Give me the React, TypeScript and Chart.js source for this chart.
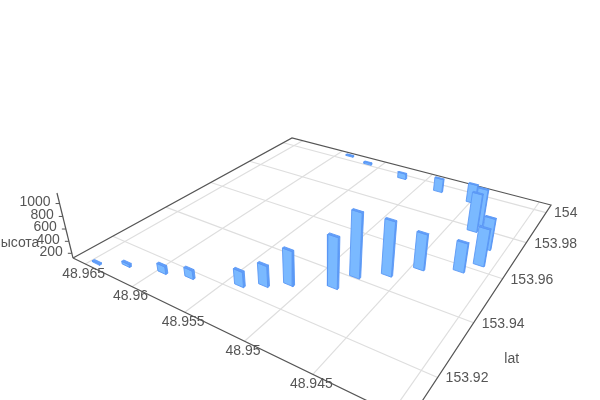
import React, { useEffect, useRef } from "react";
import { Chart, registerables } from "chart.js";

Chart.register(...registerables);

// ---- data ----
const lonValues = [48.96438, 48.96234, 48.95951, 48.95746, 48.95391, 48.95253, 48.95115, 48.94842, 48.94777, 48.946, 48.94442, 48.94193, 48.941, 48.94135, 48.94313, 48.94311, 48.94495, 48.94817, 48.95206, 48.95626, 48.95872];
const latValues = [153.909, 153.9126, 153.9155, 153.9177, 153.922, 153.9253, 153.929, 153.9339, 153.9406, 153.9457, 153.9526, 153.9573, 153.9627, 153.9711, 153.978, 153.9824, 153.994, 153.9953, 153.9974, 154.0009, 154.0033];
const heightValues = [140, 165, 245, 260, 365, 455, 670, 920, 1140, 985, 700, 590, 720, 640, 765, 740, 455, 365, 225, 155, 140];

const lonTicks = [48.965, 48.96, 48.955, 48.95, 48.945, 48.94];
const lonTickLabels = ["48.965", "48.96", "48.955", "48.95", "48.945", ""];
const latTicks = [153.92, 153.94, 153.96, 153.98, 154];
const latTickLabels = ["153.92", "153.94", "153.96", "153.98", "154"];
const heightTicks = [200, 400, 600, 800, 1000];

const latName = "lat";
const heightName = "высота";

// ---- axis extents ----
const lonStart = 48.9664;
const lonSpan = 0.0274;
const latStart = 153.907;
const latSpan = 0.0986;
const heightMin = 120;
const heightMax = 1160;

// ---- camera (homography of ground plane plus vertical vanishing point) ----
const cam = { a: 212.9, b: 354, c: 73, d: 36.3, e: -56.2, f: 258, g: -0.301, h: 0.4623, k: -0.0616, vx: 317, vy: 1248 };
const barDU = 0.029;
const barDV = 0.007;

const uOf = (lon: number) => (lonStart - lon) / lonSpan;
const vOf = (lat: number) => (lat - latStart) / latSpan;
const zOf = (h: number) => (h - heightMin) / (heightMax - heightMin);

function project(u: number, v: number, z = 0) {
  const w = cam.g * u + cam.h * v + 1;
  const gx = cam.a * u + cam.b * v + cam.c;
  const gy = cam.d * u + cam.e * v + cam.f;
  const kz = cam.k * z;
  return { x: (gx + kz * cam.vx) / (w + kz), y: (gy + kz * cam.vy) / (w + kz) };
}

const AXIS = "#555555";
const GRID = "#dedede";
const FACE = "#7ab9ff";
const SIDE = "#5f9ff8";
const TOP = "#639ffa";
const EDGE = "#5a97f5";

function lineSet(points: { x: number; y: number }[], color: string, width = 1) {
  return { data: points, showLine: true, borderColor: color, borderWidth: width, pointRadius: 0, fill: false, tension: 0 };
}
function polySet(points: { x: number; y: number }[], color: string) {
  return {
    data: [...points, points[0]],
    showLine: true,
    borderColor: EDGE,
    borderWidth: 0.9,
    backgroundColor: color,
    pointRadius: 0,
    fill: "shape",
    tension: 0,
  };
}

function buildDatasets() {
  const drawn: any[] = [];
  // grid
  for (const lon of lonTicks) drawn.push(lineSet([project(uOf(lon), 0), project(uOf(lon), 1)], GRID, 1.2));
  for (const lat of latTicks) drawn.push(lineSet([project(0, vOf(lat)), project(1, vOf(lat))], GRID, 1.2));
  // axes
  drawn.push(lineSet([project(0, 0), project(1, 0), project(1, 1), project(0, 1), project(0, 0)], AXIS, 1.2));
  drawn.push(lineSet([project(0, 0), project(0, 0, 1)], AXIS, 1.2));
  for (const t of heightTicks) {
    const p = project(0, 0, zOf(t));
    drawn.push(lineSet([p, { x: p.x - 4, y: p.y }], AXIS));
  }
  // bars, far ones first
  const order = lonValues
    .map((_, i) => i)
    .sort((p, q) => {
      const wp = cam.g * uOf(lonValues[p]) + cam.h * vOf(latValues[p]);
      const wq = cam.g * uOf(lonValues[q]) + cam.h * vOf(latValues[q]);
      return wq - wp;
    });
  for (const i of order) {
    const u = uOf(lonValues[i]);
    const v = vOf(latValues[i]);
    const z = zOf(heightValues[i]);
    const u0 = u - barDU / 2, u1 = u + barDU / 2, v0 = v - barDV / 2, v1 = v + barDV / 2;
    drawn.push(polySet([project(u1, v0, 0), project(u1, v1, 0), project(u1, v1, z), project(u1, v0, z)], SIDE));
    drawn.push(polySet([project(u0, v0, 0), project(u1, v0, 0), project(u1, v0, z), project(u0, v0, z)], FACE));
    drawn.push(polySet([project(u0, v0, z), project(u1, v0, z), project(u1, v1, z), project(u0, v1, z)], TOP));
  }
  return drawn.reverse();
}

const textPlugin = {
  id: "axisText",
  afterDraw(chart: any) {
    const { ctx, scales } = chart;
    const X = (p: number) => scales.x.getPixelForValue(p);
    const Y = (p: number) => scales.y.getPixelForValue(p);
    ctx.save();
    ctx.fillStyle = "#555555";
    ctx.font = '14px "Liberation Sans", Arial, sans-serif';
    ctx.textBaseline = "middle";
    ctx.textAlign = "center";
    lonTicks.forEach((lon, i) => {
      const p = project(uOf(lon), 0);
      ctx.fillText(lonTickLabels[i], X(p.x) - 1.5, Y(p.y) + 10);
    });
    ctx.textAlign = "left";
    latTicks.forEach((lat, i) => {
      const p = project(1, vOf(lat));
      ctx.fillText(latTickLabels[i], X(p.x) + 8, Y(p.y) + 1);
    });
    ctx.textAlign = "right";
    heightTicks.forEach((t) => {
      const p = project(0, 0, zOf(t));
      ctx.fillText(String(t), X(p.x) - 9, Y(p.y) - 1.5);
    });
    const zn = project(0, 0, 0.3);
    ctx.fillText(heightName, X(zn.x) - 29, Y(zn.y) + 4);
    ctx.textAlign = "center";
    const ln = project(1, vOf(153.93));
    ctx.fillText(latName, X(ln.x) + 55, Y(ln.y) + 11);
    ctx.restore();
  },
};

export default function App() {
  const ref = useRef<HTMLCanvasElement>(null);
  useEffect(() => {
    const chart = new Chart(ref.current as HTMLCanvasElement, {
      type: "scatter",
      data: { datasets: buildDatasets() as any },
      options: {
        animation: false,
        responsive: false,
        devicePixelRatio: 1,
        layout: { padding: 0 },
        plugins: { legend: { display: false }, tooltip: { enabled: false } },
        scales: {
          x: { type: "linear", min: 0, max: 600, display: false },
          y: { type: "linear", min: 0, max: 400, reverse: true, display: false },
        },
      },
      plugins: [textPlugin],
    } as any);
    return () => chart.destroy();
  }, []);
  return (
    <div style={{ position: "fixed", left: 0, top: 0, width: 600, height: 400, background: "#ffffff" }}>
      <canvas ref={ref} width={600} height={400} style={{ display: "block" }} />
    </div>
  );
}
